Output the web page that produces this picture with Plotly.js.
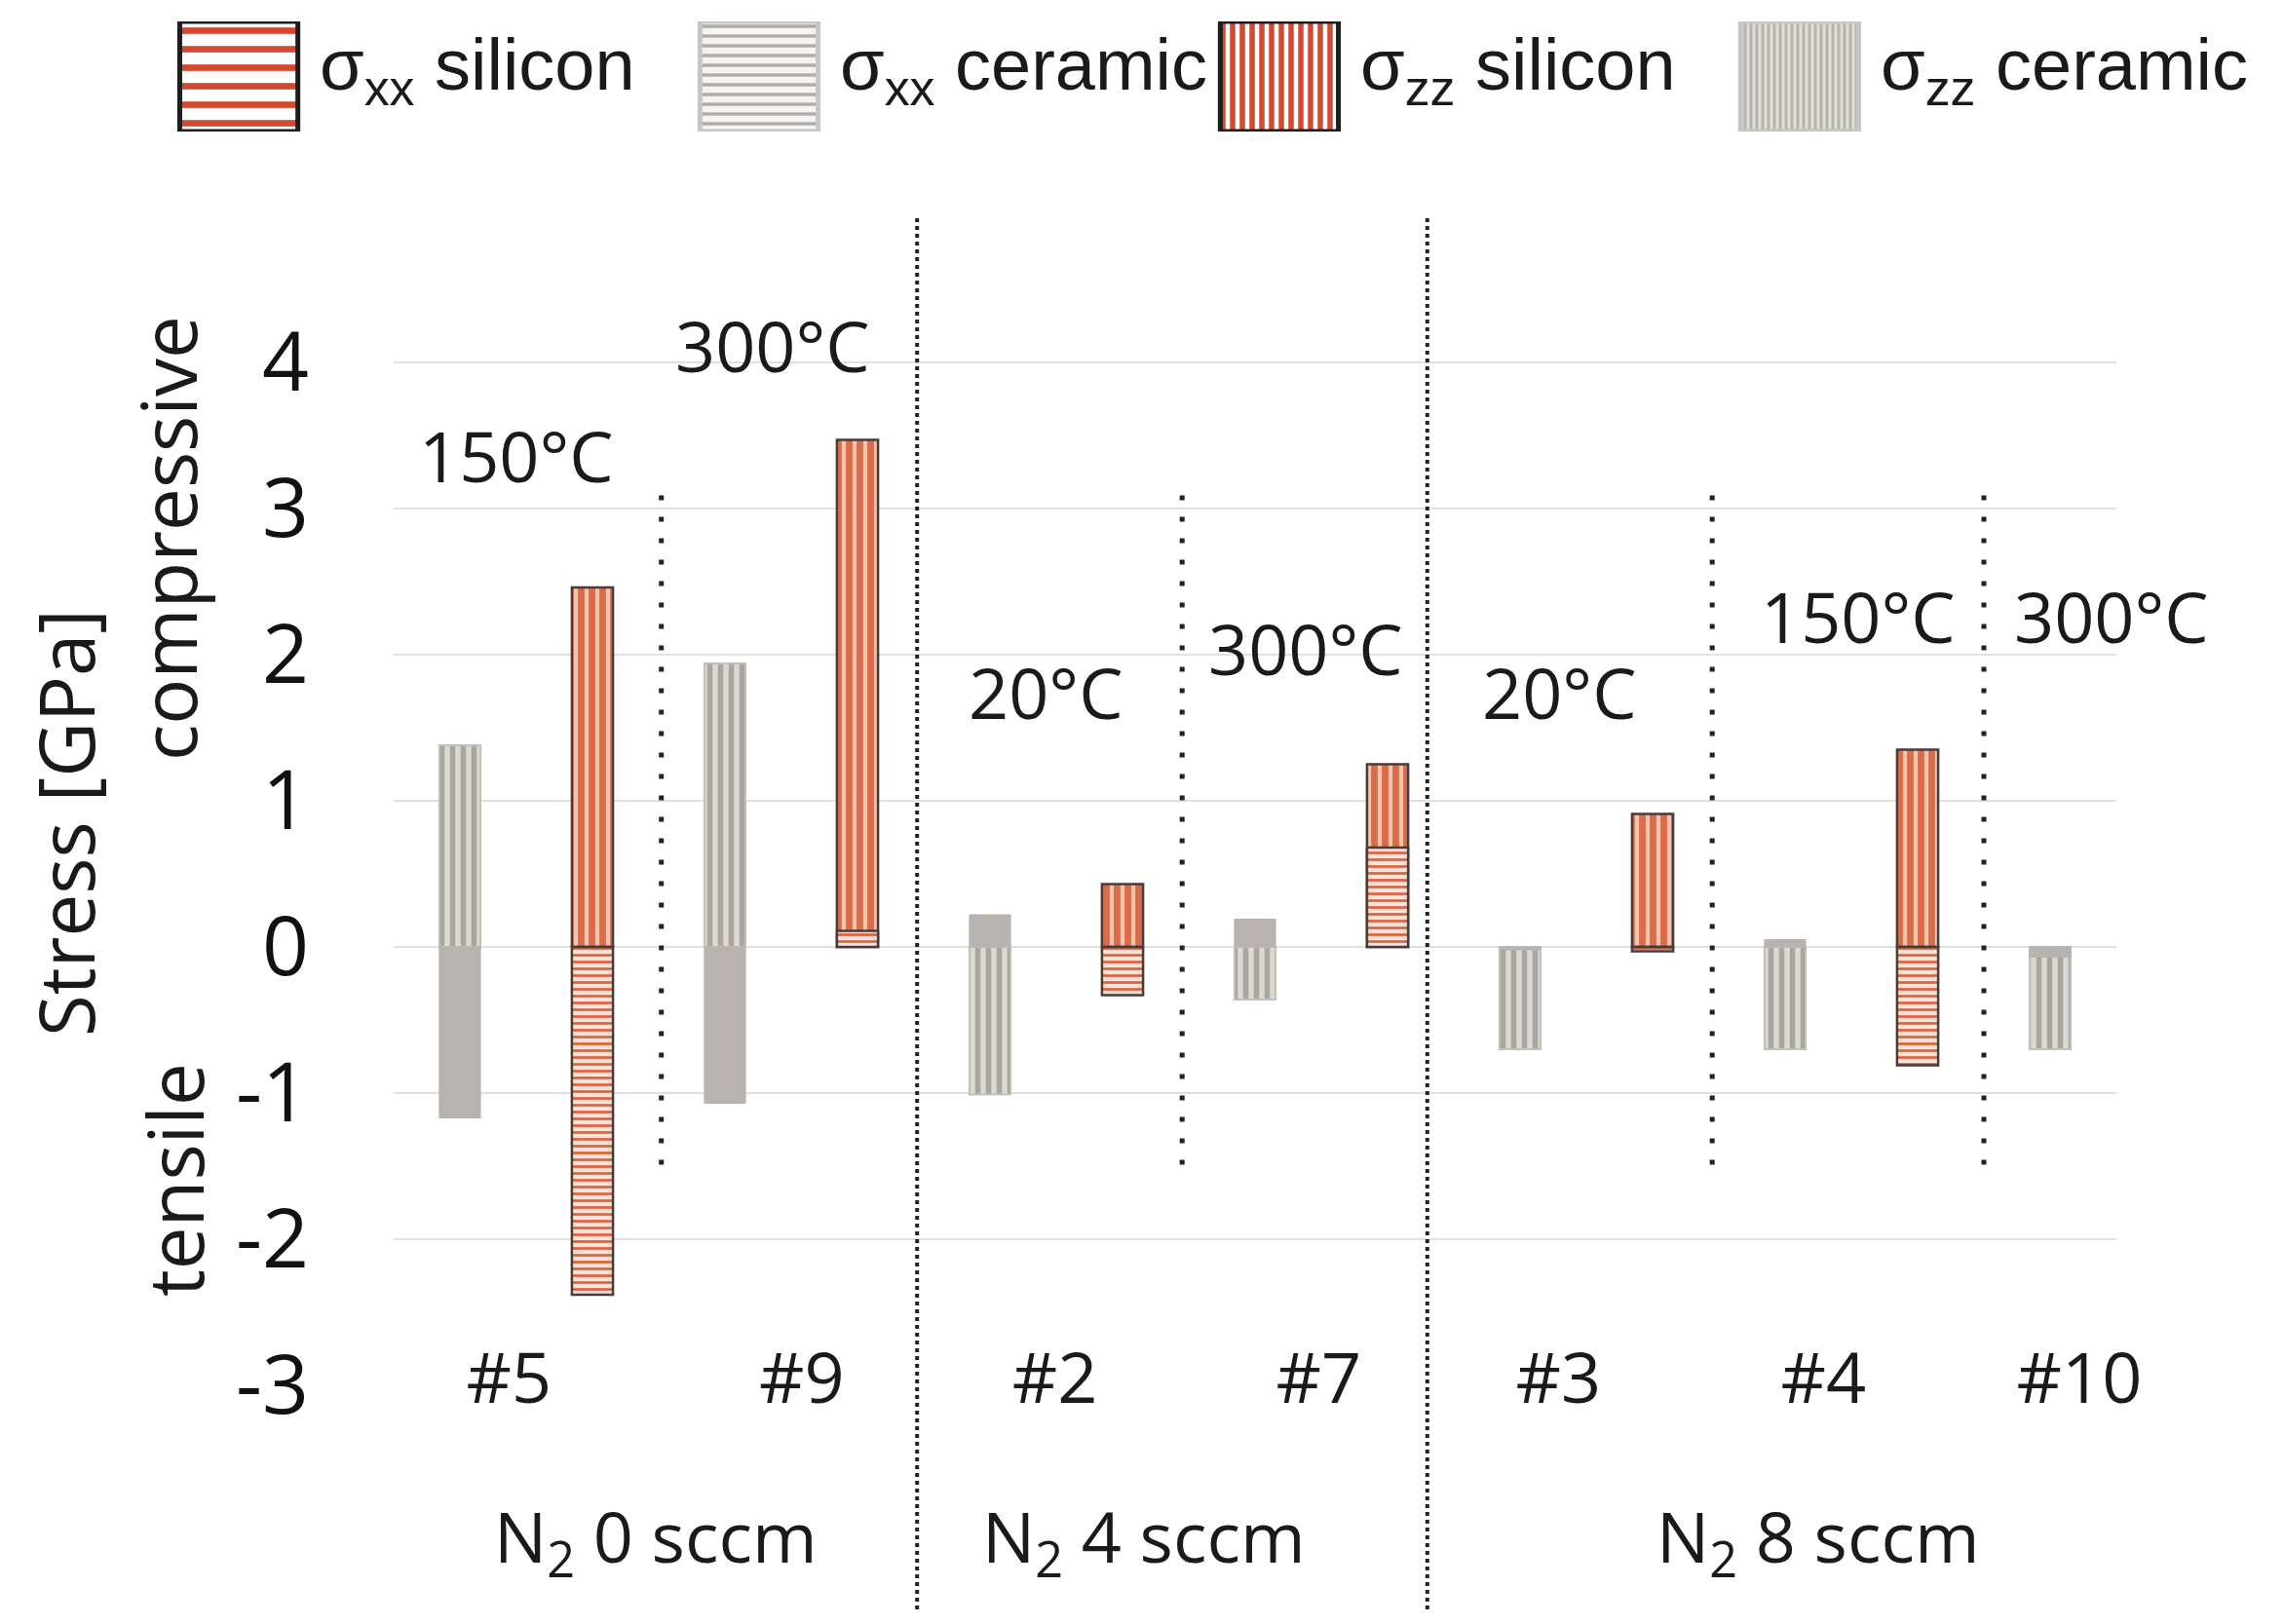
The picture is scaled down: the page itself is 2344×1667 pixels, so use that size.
<!DOCTYPE html>
<html>
<head>
<meta charset="utf-8">
<script src="https://cdn.plot.ly/plotly-3.0.1.min.js"></script>
<style>
html,body{margin:0;padding:0;background:#fff;}
#chart{width:2344px;height:1667px;}
</style>
</head>
<body>
<div id="chart"></div>
<script>
// ---------------- data ----------------
const samples = ['#5', '#9', '#2', '#7', '#3', '#4', '#10'];
const sxxSilicon = [-2.38, 0.11, -0.33, 0.68, -0.03, -0.81, null];
const sxxCeramic = [-1.17, -1.07, 0.22, 0.19, -0.02, 0.05, -0.07];
const szzSilicon = [2.46, 3.47, 0.43, 1.25, 0.91, 1.35, null];
const szzCeramic = [1.38, 1.94, -1.01, -0.36, -0.70, -0.70, -0.70];
const temperatures = ['150°C', '300°C', '20°C', '300°C', '20°C', '150°C', '300°C'];
const groupLabels = ['N<sub>2</sub> 0 sccm', 'N<sub>2</sub> 4 sccm', 'N<sub>2</sub> 8 sccm'];
const seriesNames = ['σ<sub>xx</sub> silicon', 'σ<sub>xx</sub> ceramic', 'σ<sub>zz</sub> silicon', 'σ<sub>zz</sub> ceramic'];
const yTickVals = [-3, -2, -1, 0, 1, 2, 3, 4];
const yTickText = ['-3', '-2', '-1', '0', '1', '2', '3', '4'];
const yGridVals = [-2, -1, 0, 1, 2, 3, 4];

// ---------------- layout constants ----------------
const W = 2344, H = 1667;
const FONT = '"Open Sans", "Noto Sans", sans-serif';
const LFONT = '"Liberation Sans", Arial, sans-serif';
const labelPos = [0.37, 2.58, 4.49, 6.48, 8.29, 10.29, 12.22];
const tempPos = [[0.43, 3.37], [2.36, 4.12], [4.42, 1.75], [6.38, 2.05], [8.30, 1.75], [10.55, 2.27], [12.46, 2.27]];
const groupPos = [1.48, 5.16, 10.25];
const longSep = [3.45, 7.3];
const shortSep = [1.52, 5.45, 9.45, 11.5];
const YR = [-3.35, 4.4];

const ceramicX = samples.map((s, i) => 2 * i);
const siliconX = samples.map((s, i) => 2 * i + 1);
const BW = 0.31;

const styles = {
  sxxSilicon: {shape: '-', fgcolor: '#dc5f40', bgcolor: '#fbe2d7', size: 7, solidity: 0.38, fillmode: 'replace'},
  sxxCeramic: {color: '#b8b3ae'},
  szzSilicon: {shape: '|', fgcolor: '#db6c4a', bgcolor: '#f3c4ae', size: 11, solidity: 0.62, fillmode: 'replace'},
  szzCeramic: {shape: '|', fgcolor: '#aba59f', bgcolor: '#dcd8d4', size: 11, solidity: 0.5, fillmode: 'replace'}
};
const siliconLine = {color: '#463c3a', width: 2.5};
const ceramicLine = {color: '#c3bfbb', width: 2};

const traces = [
  {type: 'bar', name: 'σzz ceramic', x: ceramicX, y: szzCeramic, width: BW,
   marker: {color: '#dcd8d4', pattern: styles.szzCeramic, line: ceramicLine}, showlegend: false, xaxis: 'x', yaxis: 'y'},
  {type: 'bar', name: 'σzz silicon', x: siliconX, y: szzSilicon, width: BW,
   marker: {color: '#f3c4ae', pattern: styles.szzSilicon, line: siliconLine}, showlegend: false, xaxis: 'x', yaxis: 'y'},
  {type: 'bar', name: 'σxx ceramic', x: ceramicX, y: sxxCeramic, width: BW,
   marker: {color: styles.sxxCeramic.color, line: {color: '#b8b3ae', width: 1}}, showlegend: false, xaxis: 'x', yaxis: 'y'},
  {type: 'bar', name: 'σxx silicon', x: siliconX, y: sxxSilicon, width: BW,
   marker: {color: '#fbe2d7', pattern: styles.sxxSilicon, line: siliconLine}, showlegend: false, xaxis: 'x', yaxis: 'y'}
];

// legend swatches on their own small axes
const legendPatterns = [
  {pattern: {shape: '-', fgcolor: '#d24a2e', bgcolor: '#ffffff', size: 19, solidity: 0.35, fillmode: 'replace'}, line: {color: '#1e1e1e', width: 5}},
  {pattern: {shape: '-', fgcolor: '#b2aca6', bgcolor: '#f6f4f2', size: 10, solidity: 0.35, fillmode: 'replace'}, line: {color: '#c6c6c6', width: 5}},
  {pattern: {shape: '|', fgcolor: '#d44a30', bgcolor: '#ffffff', size: 10, solidity: 0.55, fillmode: 'replace'}, line: {color: '#1e1e1e', width: 5}},
  {pattern: {shape: '|', fgcolor: '#b9b3ad', bgcolor: '#e2deda', size: 6, solidity: 0.5, fillmode: 'replace'}, line: {color: '#c6c6c6', width: 5}}
];
seriesNames.forEach((n, i) => {
  traces.push({type: 'bar', name: n, x: [i], y: [1], width: 0.227, xaxis: 'x2', yaxis: 'y2', showlegend: false,
    marker: {color: legendPatterns[i].pattern.bgcolor, pattern: legendPatterns[i].pattern, line: legendPatterns[i].line}});
});

const annotations = [];
temperatures.forEach((t, i) => annotations.push({
  text: t, x: tempPos[i][0], y: tempPos[i][1], xref: 'x', yref: 'y', showarrow: false,
  font: {family: FONT, size: 72, color: '#1a1a1a'}, xanchor: 'center', yanchor: 'middle'}));
groupLabels.forEach((g, i) => annotations.push({
  text: g, x: groupPos[i], y: 1 - 1580 / H, xref: 'x', yref: 'paper', showarrow: false,
  font: {family: FONT, size: 72, color: '#1a1a1a'}, xanchor: 'center', yanchor: 'middle'}));
seriesNames.forEach((n, i) => annotations.push({
  text: n, x: i + 0.151, y: 0.56, xref: 'x2', yref: 'y2', showarrow: false,
  font: {family: LFONT, size: 74, color: '#1a1a1a'}, xanchor: 'left', yanchor: 'middle'}));
annotations.push({text: 'Stress [GPa]', x: 67 / W, y: 1 - 845 / H, xref: 'paper', yref: 'paper', textangle: -90,
  showarrow: false, font: {family: FONT, size: 78, color: '#1a1a1a'}, xanchor: 'center', yanchor: 'middle'});
annotations.push({text: 'compressive', x: 172 / W, y: 1 - 553 / H, xref: 'paper', yref: 'paper', textangle: -90,
  showarrow: false, font: {family: FONT, size: 78, color: '#1a1a1a'}, xanchor: 'center', yanchor: 'middle'});
annotations.push({text: 'tensile', x: 179 / W, y: 1 - 1211 / H, xref: 'paper', yref: 'paper', textangle: -90,
  showarrow: false, font: {family: FONT, size: 78, color: '#1a1a1a'}, xanchor: 'center', yanchor: 'middle'});

const shapes = [];
longSep.forEach(x => shapes.push({type: 'line', xref: 'x', yref: 'paper', x0: x, x1: x,
  y0: 1 - 1652 / H, y1: 1 - 222 / H, line: {color: '#222', width: 4, dash: '4px,4px'}, layer: 'above'}));
shortSep.forEach(x => shapes.push({type: 'line', xref: 'x', yref: 'y', x0: x, x1: x,
  y0: -1.49, y1: 3.19, line: {color: '#222', width: 5, dash: '5px,17px'}, layer: 'above'}));

const layout = {
  width: W, height: H,
  margin: {l: 0, r: 0, t: 0, b: 0, pad: 0},
  paper_bgcolor: '#ffffff', plot_bgcolor: 'rgba(0,0,0,0)',
  barmode: 'overlay',
  showlegend: false,
  font: {family: FONT, color: '#1a1a1a'},
  xaxis: {
    domain: [404 / W, 2172 / W], range: [-0.5, 12.5], anchor: 'free', position: 1 - 1367 / H,
    tickmode: 'array', tickvals: labelPos, ticktext: samples, ticks: '',
    showgrid: false, zeroline: false, showline: false,
    tickfont: {family: FONT, size: 72, color: '#1a1a1a'}
  },
  yaxis: {
    domain: [1 - 1474.5 / H, 1 - 312 / H], range: YR, anchor: 'x',
    tickmode: 'array', tickvals: yTickVals, ticktext: yTickText, ticks: '',
    ticklabelstandoff: 86,
    showgrid: false, zeroline: false, showline: false,
    tickfont: {family: FONT, size: 84, color: '#111111'},
    minor: {tickmode: 'array', tickvals: yGridVals, showgrid: true, gridcolor: '#e4e0dc', gridwidth: 2, ticks: ''}
  },
  xaxis2: {domain: [0, 1], range: [-0.459, 3.931], anchor: 'y2', visible: false},
  yaxis2: {domain: [1 - 135 / H, 1 - 22 / H], range: [0, 1], anchor: 'x2', visible: false},
  annotations: annotations,
  shapes: shapes
};

Plotly.newPlot('chart', traces, layout, {displayModeBar: false, staticPlot: true});
</script>
</body>
</html>
